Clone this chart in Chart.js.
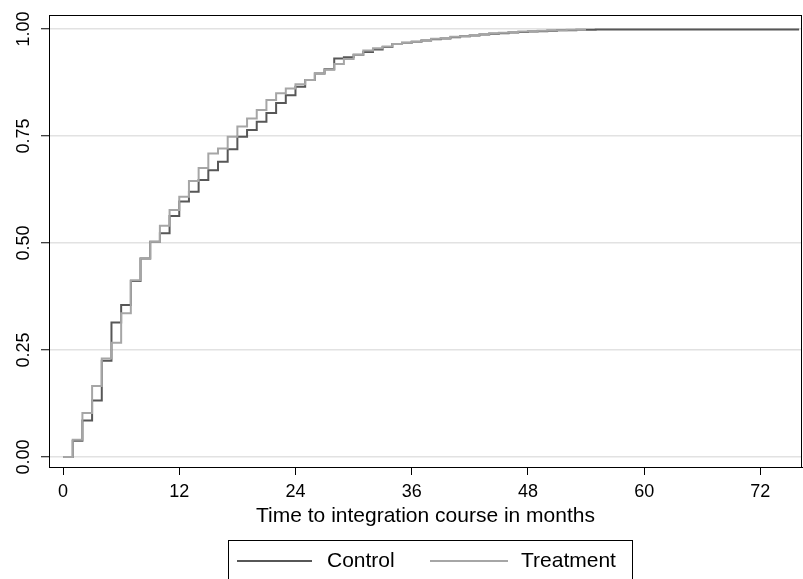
<!DOCTYPE html>
<html>
<head>
<meta charset="utf-8">
<script src="https://cdn.jsdelivr.net/npm/chart.js@4/dist/chart.umd.min.js"></script>
<style>
html,body{margin:0;padding:0;background:#fff;}
#wrap{width:803px;height:579px;}
</style>
</head>
<body>
<div id="wrap"><canvas id="c" width="803" height="579"></canvas></div>
<script>
// ---- data ----
const controlMonths = [0,1,2,3,4,5,6,7,8,9,10,11,12,13,14,15,16,17,18,19,20,21,22,23,24,25,26,27,28,29,30,31,32,33,34,35,36,37,38,39,40,41,42,43,44,45,46,47,48,49,50,51,52,53,55,76];
const controlValues = [0,0.038,0.085,0.132,0.225,0.314,0.355,0.411,0.464,0.503,0.523,0.563,0.597,0.620,0.647,0.670,0.690,0.719,0.748,0.764,0.783,0.804,0.827,0.845,0.865,0.881,0.896,0.906,0.931,0.934,0.940,0.946,0.952,0.958,0.965,0.968,0.970,0.973,0.976,0.978,0.981,0.983,0.985,0.987,0.989,0.990,0.992,0.993,0.994,0.995,0.996,0.997,0.997,0.998,0.999,0.999];
const treatmentMonths = [0,1,2,3,4,5,6,7,8,9,10,11,12,13,14,15,16,17,18,19,20,21,22,23,24,25,26,27,28,29,30,31,32,33,34,35,36,37,38,39,40,41,42,43,44,45,46,47,48,49,50,52,54];
const treatmentValues = [0,0.040,0.103,0.166,0.230,0.267,0.336,0.413,0.464,0.503,0.540,0.577,0.608,0.645,0.675,0.709,0.721,0.748,0.772,0.791,0.811,0.834,0.850,0.861,0.871,0.881,0.896,0.905,0.918,0.930,0.940,0.950,0.955,0.959,0.965,0.968,0.970,0.973,0.977,0.979,0.982,0.983,0.986,0.988,0.990,0.991,0.993,0.994,0.995,0.996,0.997,0.998,0.998];
const seriesNames = ["Control","Treatment"];
const xTicks = [0,12,24,36,48,60,72];
const yTicks = [0,0.25,0.5,0.75,1];
const yTickLabels = ["0.00","0.25","0.50","0.75","1.00"];
const xTitle = "Time to integration course in months";

const FONT = "'Liberation Sans', Arial, Helvetica, sans-serif";
const colors = ["#575757","#a6a6a6"];

function pts(xs, ys){ return xs.map((x,i)=>({x:x, y:ys[i]})); }

const overlay = {
  id: 'overlay',
  afterDraw(chart){
    const ctx = chart.ctx, a = chart.chartArea;
    const ys = chart.scales.y;
    ctx.save();
    // plot box
    ctx.strokeStyle = '#000'; ctx.lineWidth = 1;
    ctx.strokeRect(Math.round(a.left)+0.5, Math.round(a.top)+0.5, Math.round(a.right-a.left)-1, Math.round(a.bottom-a.top));
    // rotated y labels
    ctx.fillStyle = '#000';
    ctx.font = "18px " + FONT;
    ctx.textAlign = 'center'; ctx.textBaseline = 'middle';
    yTicks.forEach((v,i)=>{
      const y = ys.getPixelForValue(v);
      ctx.save(); ctx.translate(24, y); ctx.rotate(-Math.PI/2);
      ctx.fillText(yTickLabels[i], 0, 0); ctx.restore();
    });
    // legend
    const L = 228.5, T = 540.5, W = 404, H = 40;
    ctx.strokeStyle = '#000'; ctx.lineWidth = 1;
    ctx.strokeRect(L, T, W, H);
    const ly = 561;
    const items = [{x0:237,x1:312,tx:327},{x0:430,x1:508,tx:521}];
    ctx.font = "21px " + FONT; ctx.textAlign = 'left'; ctx.textBaseline = 'middle';
    items.forEach((it,i)=>{
      ctx.strokeStyle = colors[i]; ctx.lineWidth = 2;
      ctx.beginPath(); ctx.moveTo(it.x0, ly); ctx.lineTo(it.x1, ly); ctx.stroke();
      ctx.fillStyle = '#000';
      ctx.fillText(seriesNames[i], it.tx, ly);
    });
    ctx.restore();
  }
};

new Chart(document.getElementById('c'), {
  type: 'line',
  data: {
    datasets: [
      {label: seriesNames[0], data: pts(controlMonths, controlValues), borderColor: colors[0], borderWidth: 2, stepped: 'before', pointRadius: 0, fill: false, order: 2},
      {label: seriesNames[1], data: pts(treatmentMonths, treatmentValues), borderColor: colors[1], borderWidth: 2, stepped: 'before', pointRadius: 0, fill: false, order: 1}
    ]
  },
  options: {
    responsive: false, animation: false, devicePixelRatio: 1,
    layout: {padding: {left: 0, right: 1, top: 15, bottom: 50}},
    plugins: {legend: {display: false}, tooltip: {enabled: false}},
    scales: {
      x: {
        type: 'linear', min: -1.45, max: 76.3,
        afterBuildTicks(s){ s.ticks = xTicks.map(v=>({value:v})); },
        afterFit(s){ s.height = 62; },
        grid: {drawOnChartArea: false, drawTicks: true, tickLength: 8, tickColor: '#000', tickWidth: 1},
        border: {display: true, color: '#000'},
        ticks: {color: '#000', font: {family: FONT, size: 18}, padding: 6, maxRotation: 0, autoSkip: false},
        title: {display: true, text: xTitle, color: '#000', font: {family: FONT, size: 21}, padding: 0}
      },
      y: {
        type: 'linear', min: -0.0234, max: 1.0327,
        afterBuildTicks(s){ s.ticks = yTicks.map(v=>({value:v})); },
        afterFit(s){ s.width = 49; },
        grid: {color: '#e2e2e2', lineWidth: 1.5, drawTicks: true, tickLength: 8, tickColor: '#000', tickWidth: 1},
        border: {display: true, color: '#000'},
        ticks: {display: false}
      }
    }
  },
  plugins: [overlay]
});
</script>
</body>
</html>
